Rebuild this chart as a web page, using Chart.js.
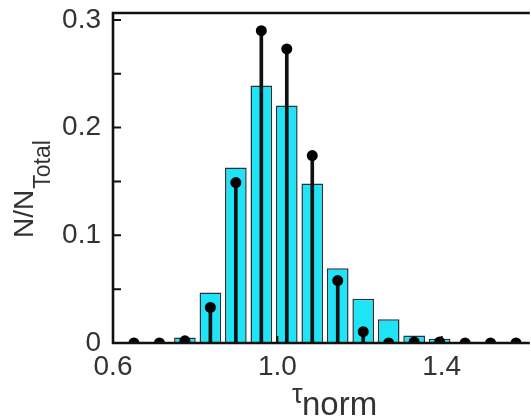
<!DOCTYPE html>
<html>
<head>
<meta charset="utf-8">
<script src="https://cdn.jsdelivr.net/npm/chart.js@4/dist/chart.umd.min.js"></script>
<style>
html,body{margin:0;padding:0;background:#ffffff;overflow:hidden}
canvas{display:block}
</style>
</head>
<body>
<canvas id="c" width="531" height="419"></canvas>
<script>
// ---- data ----
const binCenters = [0.651, 0.713, 0.775, 0.837, 0.899, 0.961, 1.023, 1.085, 1.147, 1.209, 1.271, 1.333, 1.395, 1.457, 1.519, 1.581];
const histValues = [0, 0, 0.005, 0.047, 0.163, 0.239, 0.2205, 0.148, 0.0695, 0.041, 0.022, 0.007, 0.004, 0, 0, 0];
const dotValues  = [0, 0, 0.002, 0.033, 0.149, 0.290, 0.273, 0.174, 0.058, 0.0105, 0, 0.001, 0.001, 0, 0, 0];
const xTickValues = [0.6, 1.0, 1.4];
const yTickValues = [0, 0.1, 0.2, 0.3];
const yMinorTickValues = [0, 0.05, 0.1, 0.15, 0.2, 0.25, 0.3];
const xRange = [0.6, 1.604];
const yRange = [0, 0.3064];
const yTitleMain = 'N/N', yTitleSub = 'Total';
const xTitleMain = '\u03C4', xTitleSub = 'norm';

const FONT = '"Liberation Sans", Arial, Helvetica, sans-serif';
const TEXT = '#333333';

const framePlugin = {
  id: 'frame',
  afterDatasetsDraw(chart) {
    const {ctx, chartArea: a, scales} = chart;
    const x = scales.x, y = scales.y;
    ctx.save();
    ctx.strokeStyle = '#111111';
    ctx.lineWidth = 2.6;
    ctx.lineCap = 'square';
    ctx.beginPath();
    ctx.moveTo(a.right + 3, a.top);
    ctx.lineTo(a.left, a.top);
    ctx.lineTo(a.left, a.bottom);
    ctx.lineTo(a.right + 3, a.bottom);
    ctx.stroke();
    ctx.lineWidth = 2;
    ctx.lineCap = 'butt';
    ctx.beginPath();
    yMinorTickValues.forEach(v => {
      const p = y.getPixelForValue(v);
      ctx.moveTo(a.left, p); ctx.lineTo(a.left + 8, p);
    });
    xTickValues.forEach(v => {
      const p = x.getPixelForValue(v);
      ctx.moveTo(p, a.bottom); ctx.lineTo(p, a.bottom - 7);
    });
    ctx.stroke();
    ctx.restore();
  },
  afterDraw(chart) {
    const ctx = chart.ctx;
    ctx.save();
    ctx.fillStyle = TEXT;
    ctx.textBaseline = 'alphabetic';
    ctx.textAlign = 'left';
    // y title (rotated)
    ctx.save();
    ctx.translate(33, 238);
    ctx.rotate(-Math.PI / 2);
    ctx.font = '28px ' + FONT;
    ctx.fillText(yTitleMain, 0, 0);
    const w = ctx.measureText(yTitleMain).width;
    ctx.font = '23px ' + FONT;
    ctx.fillText(yTitleSub, w + 1, 17);
    ctx.restore();
    // x title
    ctx.font = '27px ' + FONT;
    ctx.fillText(xTitleMain, 292, 403);
    ctx.font = '33px ' + FONT;
    ctx.fillText(xTitleSub, 302, 415);
    ctx.restore();
  }
};

new Chart(document.getElementById('c'), {
  type: 'bar',
  data: {
    datasets: [
      {
        type: 'scatter',
        label: 'sim',
        data: binCenters.map((c, i) => ({x: c, y: dotValues[i]})),
        pointRadius: 5.5,
        pointHoverRadius: 5.5,
        pointBackgroundColor: '#000000',
        pointBorderColor: '#000000',
        pointBorderWidth: 0,
        showLine: false,
        clip: 0,
        order: 1
      },
      {
        type: 'bar',
        label: 'stems',
        data: binCenters.map((c, i) => ({x: c, y: [0, dotValues[i]]})),
        backgroundColor: '#111111',
        borderWidth: 0,
        barThickness: 3,
        grouped: false,
        order: 2
      },
      {
        type: 'bar',
        label: 'hist',
        data: binCenters.map((c, i) => ({x: c, y: histValues[i]})),
        backgroundColor: '#1fe3f6',
        borderColor: '#2a3236',
        borderWidth: 1.5,
        barPercentage: 0.85,
        categoryPercentage: 1.0,
        grouped: false,
        order: 3
      }
    ]
  },
  options: {
    responsive: false,
    animation: false,
    devicePixelRatio: 1,
    layout: {padding: {top: 13, right: 0, left: 0, bottom: 0}},
    plugins: {legend: {display: false}, tooltip: {enabled: false}, title: {display: false}},
    scales: {
      x: {
        type: 'linear',
        min: xRange[0],
        max: xRange[1],
        offset: false,
        grid: {display: false, drawTicks: false, offset: false},
        border: {display: false},
        afterBuildTicks: s => { s.ticks = xTickValues.map(v => ({value: v})); },
        afterFit: s => { s.height = 76; s.paddingLeft = 0; s.paddingRight = 0; },
        ticks: {
          color: TEXT,
          font: {family: FONT, size: 28},
          padding: 7,
          maxRotation: 0,
          autoSkip: false,
          callback: v => Number(v).toFixed(1)
        }
      },
      y: {
        type: 'linear',
        min: yRange[0],
        max: yRange[1],
        grid: {display: false, drawTicks: false},
        border: {display: false},
        afterBuildTicks: s => { s.ticks = yTickValues.map(v => ({value: v})); },
        afterFit: s => { s.width = 113; s.paddingTop = 0; s.paddingBottom = 0; },
        ticks: {
          color: TEXT,
          font: {family: FONT, size: 28},
          padding: 12,
          callback: v => (v === 0 ? '0' : Number(v).toFixed(1))
        }
      }
    }
  },
  plugins: [framePlugin]
});
</script>
</body>
</html>
